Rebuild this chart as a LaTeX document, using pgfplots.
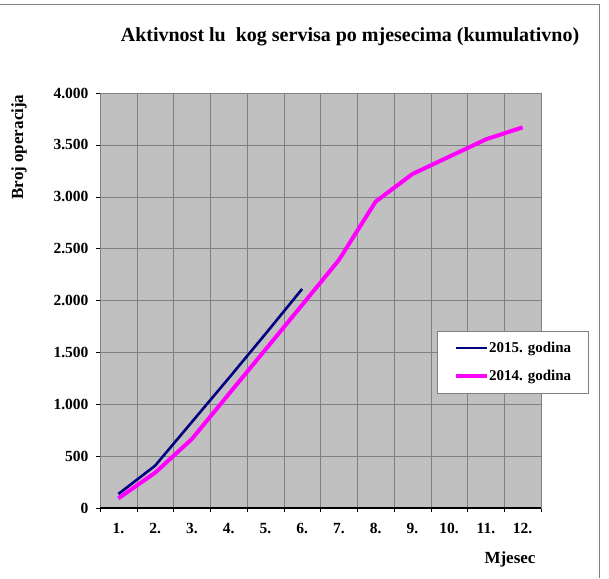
\documentclass[border=0pt]{standalone}
\usepackage{fontspec}
\setmainfont{Liberation Serif}
\usepackage{pgfplots}
\pgfplotsset{compat=1.18}

\definecolor{plotbg}{RGB}{192,192,192}
\definecolor{gridgray}{RGB}{128,128,128}
\definecolor{navy}{RGB}{0,0,128}
\definecolor{pink}{RGB}{255,0,255}

\begin{document}
\begin{tikzpicture}[x=1pt,y=1pt]
\useasboundingbox (0,0) rectangle (609,578);
% chart area frame (top and right edges only visible)
\draw[gray, line width=1pt] (0,573) -- (599,573) -- (599,0);

\begin{axis}[
    at={(100pt,70pt)}, anchor=south west,
    scale only axis,
    width=441pt, height=415pt,
    xmin=0.5, xmax=12.5,
    ymin=0, ymax=4000,
    axis background/.style={fill=plotbg},
    axis line style={gridgray},
    xtick pos=bottom, ytick pos=left,
    xtick={1,...,12},
    xticklabels={1.,2.,3.,4.,5.,6.,7.,8.,9.,10.,11.,12.},
    major x tick style={draw=none},
    minor xtick={0.5,1.5,...,12.5},
    minor x tick style={black, thin},
    xminorgrids=true,
    minor grid style={gridgray, thin},
    ytick={0,500,...,4000},
    ymajorgrids=true,
    major grid style={gridgray, thin},
    major y tick style={black, thin},
    tick align=outside,
    major tick length=4pt,
    minor tick length=4pt,
    scaled y ticks=false,
    /pgf/number format/.cd, 1000 sep={.}, assume math mode=true,
    /pgfplots/.cd,
    tick label style={font=\fontsize{15.5}{18}\selectfont\bfseries},
    yticklabel style={xshift=-4pt},
    xticklabel style={yshift=-8pt},
    legend style={
        at={(0.764,0.427)}, anchor=north west,
        fill=white, draw=gridgray,
        font=\fontsize{15}{18}\selectfont\bfseries,
        row sep=12pt, inner xsep=17pt, inner ysep=9pt,
        legend cell align=left,
        nodes={inner xsep=0pt},
    },
    legend image code/.code={\draw[#1] (0pt,0pt) -- (31pt,0pt);},
]
\addplot[navy, line width=2.6pt] coordinates {
    (1,135) (2,408) (3,829) (4,1250) (5,1677) (6,2111)
};
\addlegendentry{2015. godina}
\addplot[pink, line width=4pt] coordinates {
    (1,93) (2,340) (3,665) (4,1096) (5,1526) (6,1957)
    (7,2390) (8,2953) (9,3219) (10,3386) (11,3553) (12,3669)
};
\addlegendentry{2014. godina}
\draw[black, line width=1.3pt] (rel axis cs:0,0) -- (rel axis cs:1,0);
\end{axis}

\node[font=\fontsize{20}{24}\selectfont\bfseries] at (350,541)
    {Aktivnost lu\ \ kog servisa po mjesecima (kumulativno)};
\node[font=\fontsize{17}{20}\selectfont\bfseries, rotate=90] at (19,431)
    {Broj operacija};
\node[font=\fontsize{17}{20}\selectfont\bfseries] at (510,19)
    {Mjesec};
\end{tikzpicture}
\end{document}
